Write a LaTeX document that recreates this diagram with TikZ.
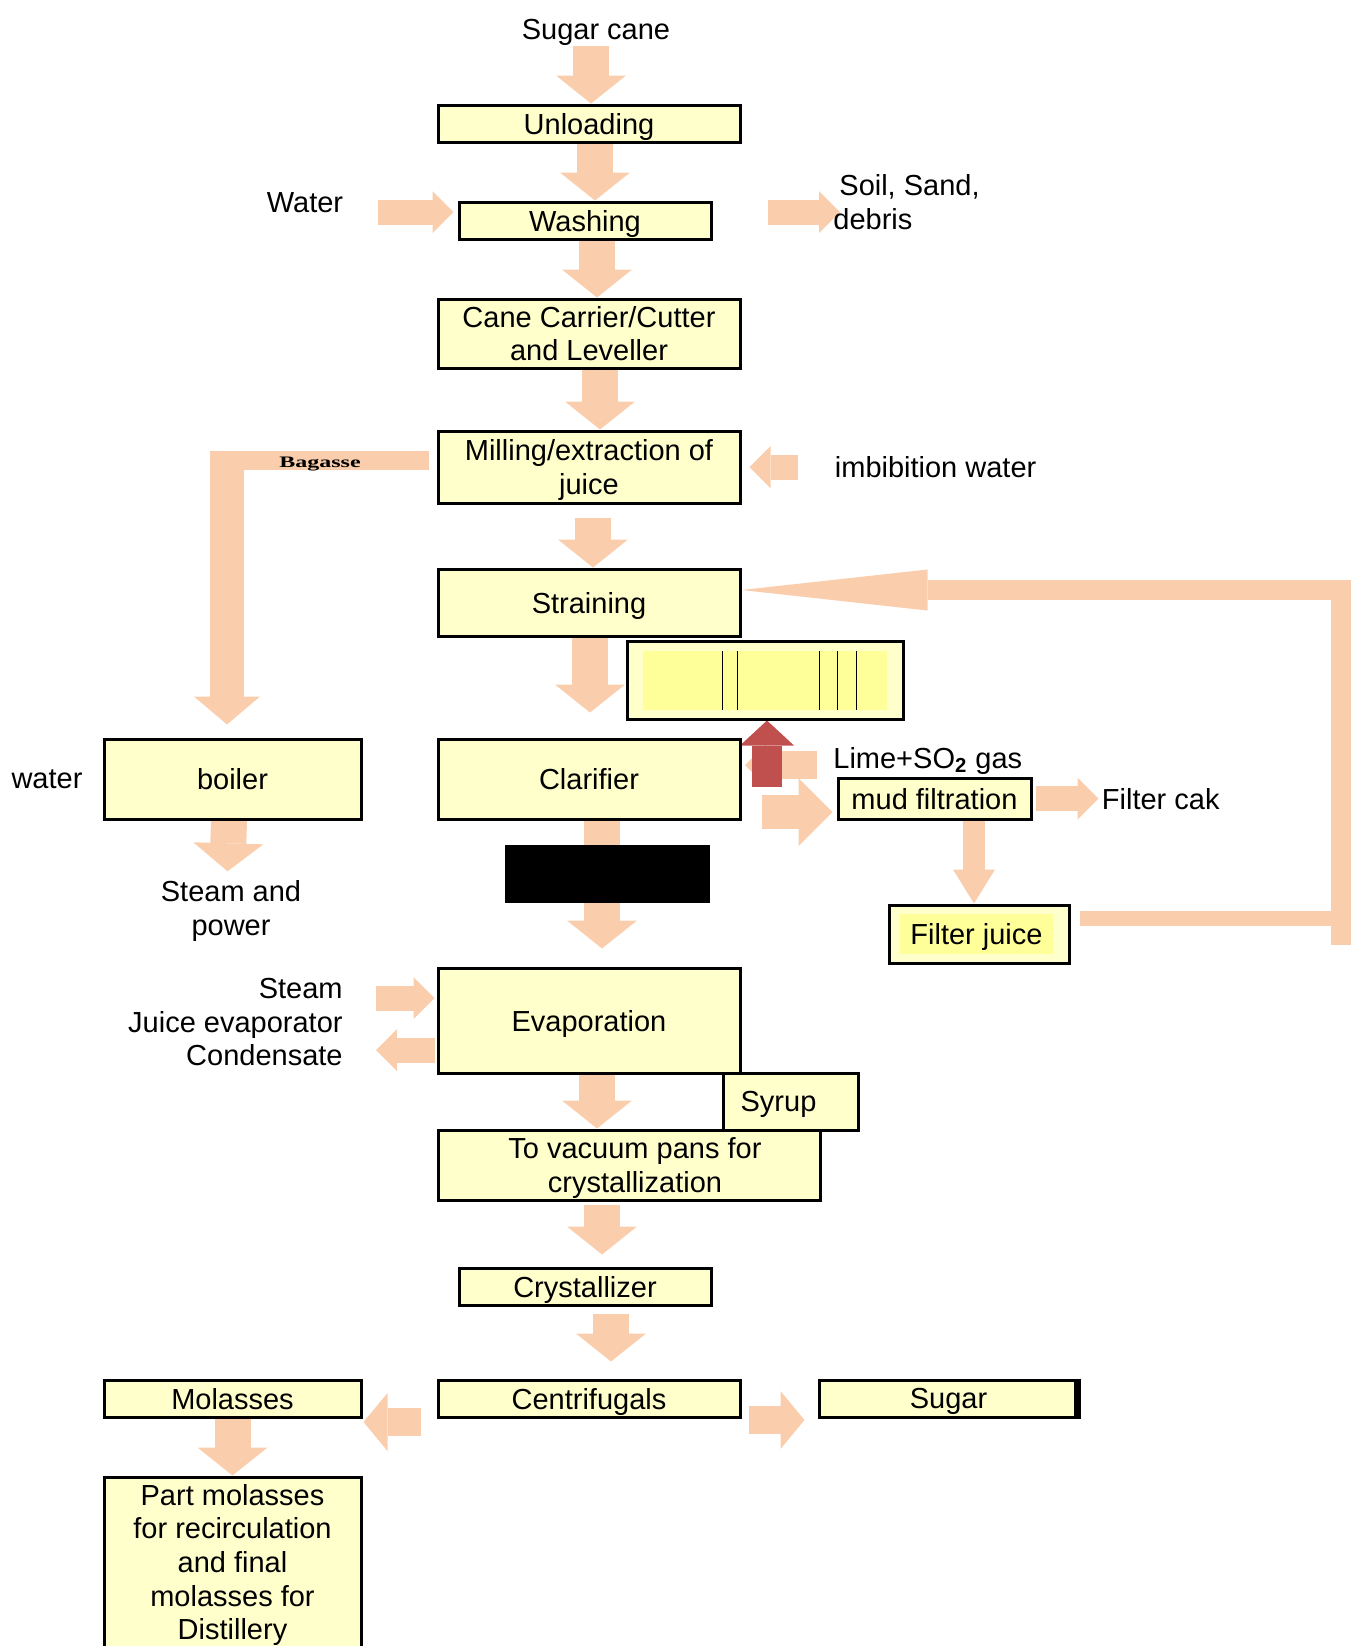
\documentclass[tikz,border=0pt]{standalone}
\usepackage{fontspec}
\usepackage{graphicx}
\setmainfont{Liberation Sans}
\newfontfamily\bagfont{Liberation Serif}
\usetikzlibrary{arrows.meta, positioning, backgrounds}
\definecolor{peach}{RGB}{250,206,172}
\definecolor{boxfill}{RGB}{255,255,204}
\definecolor{brightyel}{RGB}{255,255,153}
\definecolor{limered}{RGB}{192,80,77}
\newcommand{\flowfont}{\fontsize{14.5}{16.8}\selectfont}

\begin{document}
\begin{tikzpicture}[x=0.5pt, y=-0.5pt,
    box/.style={draw=black, line width=1.5pt, fill=boxfill, inner sep=0pt,
                align=center, font=\flowfont, text depth=0pt},
    txt/.style={inner sep=0pt, align=center, font=\flowfont, text depth=0pt},
    flow/.style={draw=peach, line width=18pt,
                 -{Triangle[length=14pt, width=35pt, line width=0pt]}},
    flowsm/.style={draw=peach, line width=12.5pt,
                   -{Triangle[length=10.5pt, width=21pt, line width=0pt]}},
    flowmd/.style={draw=peach, line width=14pt,
                   -{Triangle[length=12pt, width=29pt, line width=0pt]}},
    flowbig/.style={draw=peach, line width=17pt,
                    -{Triangle[length=17pt, width=34pt, line width=0pt]}},
    band/.style={draw=peach, line width=10pt},
    redflow/.style={draw=limered, line width=15pt,
                    -{Triangle[length=12.5pt, width=27pt, line width=0pt]}}]
  \useasboundingbox (0,0) rectangle (1351,1646);

  % main column
  \node[txt] (sugarcane) at (596,29) {Sugar cane};
  \node[box, minimum width=151pt, minimum height=18.5pt] (unload) at (589,123.5) {Unloading};
  \node[box, minimum width=126pt, minimum height=18.5pt] (wash) at (585,220.5) {Washing};
  \node[box, minimum width=151pt, minimum height=34.5pt] (canecut) at (589,333.5) {Cane Carrier/Cutter\\and Leveller};
  \node[box, minimum width=151pt, minimum height=36pt] (mill) at (589,467) {Milling/extraction of\\juice};
  \node[box, minimum width=151pt, minimum height=33.5pt] (strain) at (589,602.5) {Straining};
  \node[box, minimum width=151pt, minimum height=40pt] (clar) at (589,779) {Clarifier};
  \node[box, minimum width=151pt, minimum height=52.5pt] (evap) at (589,1020.5) {Evaporation};
  \node[box, minimum width=67.5pt, minimum height=28.5pt] (syrup) at (790.5,1101.5) {\hspace*{-12pt}Syrup};
  \node[box, minimum width=191pt, minimum height=35pt] (vac) at (629,1165) {\hspace*{6pt}To vacuum pans for\\\hspace*{6pt}crystallization};
  \node[box, minimum width=126pt, minimum height=18.5pt] (cryst) at (585,1286.5) {Crystallizer};
  \node[box, minimum width=151pt, minimum height=18.5pt] (centr) at (589,1398.5) {Centrifugals};

  % left column
  \node[txt] (water) at (305,203) {Water};
  \node[box, minimum width=128.5pt, minimum height=40pt] (boiler) at (232.5,779) {boiler};
  \node[txt] (water2) at (47,779) {water};
  \node[txt] (steampow) at (231,908) {Steam and\\power};
  \node[txt, align=right, anchor=east] (steamio) at (343,1022) {Steam\\Juice evaporator\\Condensate};
  \node[box, minimum width=128.5pt, minimum height=18.5pt] (mol) at (232.5,1398.5) {Molasses};
  \node[box, minimum width=128.5pt, minimum height=89pt, text depth=4pt] (part) at (232.5,1566)
    {Part molasses\\for recirculation\\and final\\molasses for\\Distillery};

  % right side
  \node[txt, align=left, anchor=west] (soil) at (833,202) {\hspace*{3pt}Soil, Sand,\\debris};
  \node[txt, right=46.5pt of mill] (imbib) {imbibition water};
  \node[box, minimum width=138pt, minimum height=39pt] (screen) at (765,680) {};
  \fill[brightyel] (643,651) rectangle (887,710);
  \foreach \x in {722,737,819,837,856}
    \draw[line width=0.5pt] (\x,651) -- (\x,710);
  \node[txt, anchor=west] (lime) at (833,758) {Lime+SO\textsubscript{\textbf{2}} gas};
  \node[box, minimum width=96.5pt, minimum height=20.5pt] (mud) at (934.5,798.5) {mud filtration};
  \node[txt, right=34.5pt of mud] (cak) {Filter cak};
  \node[box, minimum width=90pt, minimum height=29pt] (fjuice) at (979,934) {};
  \node[fill=brightyel, inner sep=0pt, minimum width=76.5pt, minimum height=20pt,
        font=\flowfont, text depth=0pt] (fjtxt) at ([xshift=-1.25pt]fjuice.center) {Filter juice};
  \node[box, minimum width=129.5pt, minimum height=18.5pt] (sugar) at (948.5,1398.5) {Sugar};
  \draw[line width=3.5pt] ([xshift=-1pt]sugar.north east) -- ([xshift=-1pt]sugar.south east);

  \coordinate (lime0) at (767,787);
  \coordinate (limetip) at (745,765);
  \coordinate (bagh) at (210,460.5);
  \coordinate (bagc) at (227,451);
  \coordinate (rb) at (1341,918);
  \coordinate (rt) at (1341,590);
  \coordinate (rbot) at (1341,945);
  \coordinate (rtop) at (1341,580);

  \begin{scope}[on background layer]
    % main flow
    \draw[flow] ([xshift=-2.5pt,yshift=-3pt]sugarcane.south) -- ([xshift=1pt]unload.north);
    \draw[flow] ([xshift=3pt]unload.south) -- ([xshift=5pt]wash.north);
    \draw[flow] ([xshift=6pt]wash.south) -- ([xshift=4pt]canecut.north);
    \draw[flow] ([xshift=5.5pt]canecut.south) -- ([xshift=5.5pt]mill.north);
    \draw[flow] ([xshift=2pt,yshift=-6.5pt]mill.south) -- ([xshift=2pt]strain.north);
    \draw[flow] ([xshift=0.5pt]strain.south) -- ([xshift=0.5pt,yshift=12.5pt]clar.north);
    \draw[flow] ([xshift=6.5pt]clar.south) -- ([xshift=6.5pt,yshift=9pt]evap.north);
    \draw[flow] ([xshift=4pt]evap.south) -- ([xshift=-16pt]vac.north);
    \draw[flow] ([xshift=-13.5pt,yshift=-1.5pt]vac.south) -- ([xshift=8.5pt,yshift=6pt]cryst.north);
    \draw[flow] ([xshift=13pt,yshift=-3.5pt]cryst.south) -- ([xshift=11pt,yshift=8.5pt]centr.north);
    \draw[flowmd] ([xshift=-8pt,yshift=-11.75pt]centr.west) -- ([xshift=0.5pt,yshift=-11.75pt]mol.east);
    \draw[flowmd] ([xshift=3.5pt,yshift=-10.75pt]centr.east) -- ([xshift=-6.5pt,yshift=-10.75pt]sugar.west);
    \draw[flow] (mol.south) -- (part.north);
    % side streams
    \draw[flowsm] ([xshift=17pt,yshift=-4.5pt]water.east) -- ([xshift=-2pt,yshift=4.25pt]wash.west);
    \draw[flowsm] ([xshift=27.5pt,yshift=4.25pt]wash.east) -- ([xshift=3.5pt,yshift=-5pt]soil.west);
    \draw[flowsm] ([xshift=-18.5pt]imbib.west) -- ([xshift=4pt]mill.east);
    \draw[band, line width=9.5pt] ([xshift=-4pt,yshift=3.25pt]mill.west) -- (bagh);
    \draw[flow, line width=17pt, -{Triangle[length=14pt, width=33pt, line width=0pt]}]
      (bagc) -- ([xshift=-2.75pt,yshift=6.5pt]boiler.north);
    \draw[flow] ([xshift=-1.75pt]boiler.south) -- ([xshift=-1.75pt,yshift=4.5pt]steampow.north);
    \draw[flowsm] ([xshift=16.5pt,yshift=12pt]steamio.east) -- ([xshift=-1pt,yshift=11.25pt]evap.west);
    \draw[flowsm] ([xshift=-1pt,yshift=-14.75pt]evap.west) -- ([xshift=16.5pt,yshift=-14pt]steamio.east);
    % clarification loop
    \draw[flowbig] ([xshift=10pt,yshift=-16.5pt]clar.east) -- ([xshift=-2pt,yshift=-6.75pt]mud.west);
    \draw[flowsm] ([xshift=1.5pt]mud.east) -- ([xshift=-1.5pt]cak.west);
    \draw[flowsm, line width=11pt, -{Triangle[length=17pt, width=21pt, line width=0pt]}]
      ([xshift=19.75pt]mud.south) -- ([xshift=-2.5pt]fjuice.north);
    \draw[flowsm, line width=14pt] ([xshift=-8pt,yshift=-3.5pt]lime.west) -- (limetip);
    \draw[redflow] (lime0) -- ([xshift=1pt]screen.south);
    \draw[band, line width=7.5pt] ([xshift=4.5pt,yshift=8pt]fjuice.east) -- (rb);
    \draw[band, line width=10.5pt] (rbot) -- (rtop);
    \draw[band, -{Triangle[length=93pt, width=20.5pt, line width=0pt]}] (rt) -- (strain.east |- rt);
  \end{scope}

  \node[txt] (bagasse) at (320,462) {\bagfont\bfseries\fontsize{8}{9}\selectfont\scalebox{1.5}[1]{Bagasse}};
  \node[fill=black, inner sep=0pt, minimum width=102.5pt, minimum height=29pt] (blk) at (607.5,874) {};
\end{tikzpicture}
\end{document}
